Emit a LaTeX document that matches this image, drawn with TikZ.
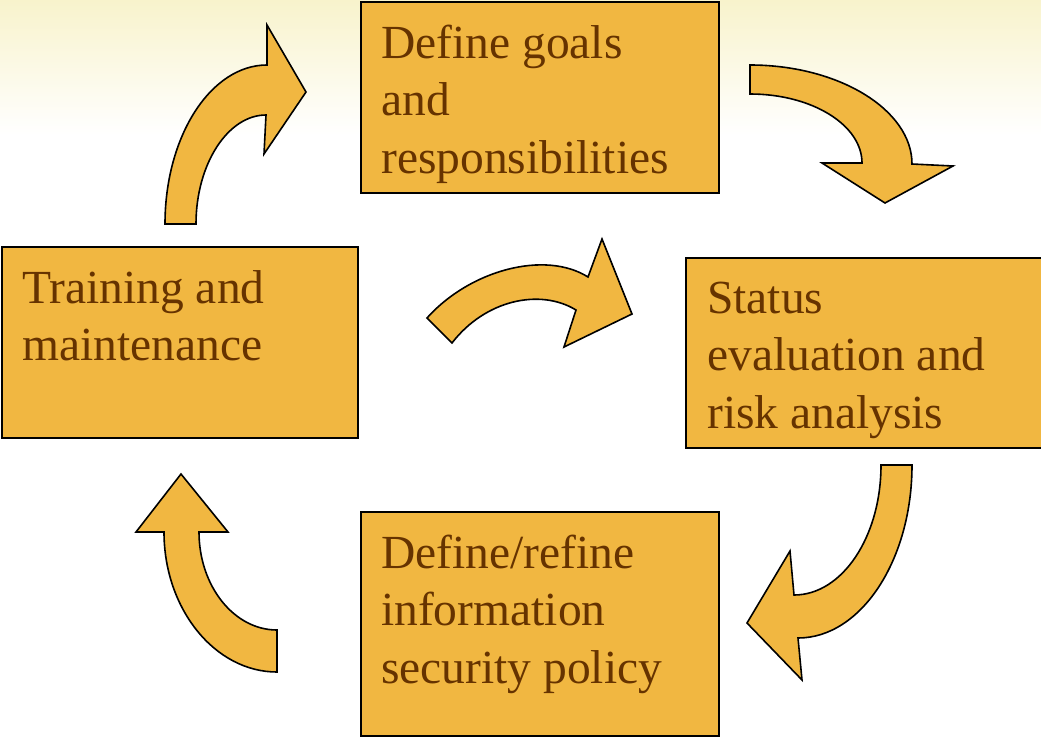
\documentclass[tikz,border=0pt]{standalone}
\usepackage{fontspec}
\setmainfont{Liberation Serif}
\definecolor{boxfill}{HTML}{F1B741}
\definecolor{labeltext}{HTML}{663300}
\definecolor{bgtop}{HTML}{F8F3CC}
\begin{document}
\begin{tikzpicture}[x=1pt,y=-1pt,
    stagebox/.style={draw=black,line width=1.8pt,fill=boxfill,rectangle,inner sep=0pt,anchor=north west},
    stagetext/.style={anchor=base west,inner sep=0pt,text=labeltext,font=\fontsize{47.5}{57.5}\selectfont},
    bentarrow/.style={draw=black,line width=1.6pt,fill=boxfill,line join=miter}]
    \clip (0,0) rectangle (1041,736);
    \useasboundingbox (0,0) rectangle (1041,736);
    % background
    \fill[white] (0,0) rectangle (1041,736);
    \shade[top color=bgtop,bottom color=white] (0,0) rectangle (1041,135);

    % the four stages
    \node[stagebox,minimum width=358pt,minimum height=191pt] (goals) at (360,1) {};
    \node[stagebox,minimum width=362pt,minimum height=190pt] (status) at (685,257) {};
    \node[stagebox,minimum width=358pt,minimum height=224pt] (policy) at (360,511) {};
    \node[stagebox,minimum width=356pt,minimum height=191pt] (training) at (1,246) {};

    \node[stagetext] (goalstext) at ([xshift=21pt,yshift=-57pt]goals.north west)
        {\parbox[t]{330pt}{\raggedright Define goals\\and\\responsibilities}};
    \node[stagetext] (statustext) at ([xshift=22pt,yshift=-56pt]status.north west)
        {\parbox[t]{330pt}{\raggedright Status\\evaluation and\\risk analysis}};
    \node[stagetext] (policytext) at ([xshift=21pt,yshift=-57pt]policy.north west)
        {\parbox[t]{330pt}{\raggedright Define/refine\\information\\security policy}};
    \node[stagetext] (trainingtext) at ([xshift=21pt,yshift=-57pt]training.north west)
        {\parbox[t]{330pt}{\raggedright Training and\\maintenance}};

    % curved block arrows
    \draw[bentarrow] (165,224) .. controls (165,136) and (211,65) .. (267,65)
        -- (267,25) -- (306,92) -- (264,154) -- (266,115)
        .. controls (228,115) and (196,164) .. (196,224) -- cycle;
    \draw[bentarrow] (750,65) .. controls (839,65) and (912,110) .. (912,164)
        -- (953,166) -- (885,203) -- (822,163) -- (862,163)
        .. controls (862,125) and (812,94) .. (750,94) -- cycle;
    \draw[bentarrow] (427,318) .. controls (470,270) and (545,250) .. (588,277)
        -- (602,239) -- (632,314) -- (564,347) -- (576,310)
        .. controls (540,288) and (485,300) .. (452,343) -- cycle;
    \draw[bentarrow] (912,465) .. controls (912,560) and (861,638) .. (798,638)
        -- (802,680) -- (747,623) -- (790,551) -- (794,595)
        .. controls (842,595) and (881,537) .. (881,465) -- cycle;
    \draw[bentarrow] (277,672) .. controls (215,672) and (164,609) .. (164,532)
        -- (136,532) -- (181,474) -- (228,532) -- (199,532)
        .. controls (199,586) and (234,630) .. (277,630) -- cycle;
\end{tikzpicture}
\end{document}
